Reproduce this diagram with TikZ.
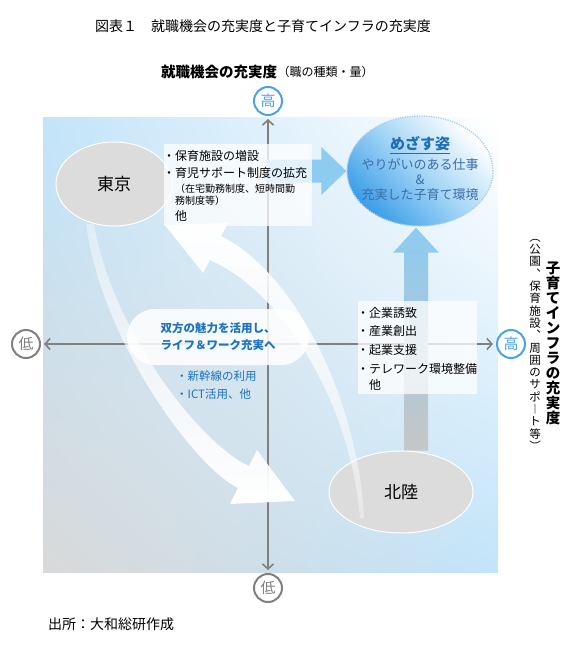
\documentclass[tikz,border=0pt]{standalone}
\usepackage{fontspec}
\setmainfont{Noto Sans CJK JP}
\usetikzlibrary{arrows.meta,shapes.geometric,calc,fadings,shadings}

\definecolor{fieldblue}{HTML}{C2E4FA}
\definecolor{fieldgray}{HTML}{D9D9D9}
\definecolor{axisgray}{HTML}{808080}
\definecolor{highblue}{HTML}{4AA3E6}
\definecolor{flowblue}{HTML}{8DCBF0}
\definecolor{flowgray}{HTML}{C6C6C6}
\definecolor{goalblue}{HTML}{3A9DE8}
\definecolor{goalmid}{HTML}{A3D5F6}
\definecolor{goalrim}{HTML}{A9CFE8}
\definecolor{goaltext}{HTML}{3D6DA8}
\definecolor{goalhead}{HTML}{1F6DB8}
\definecolor{linkblue}{HTML}{1B72C2}
\definecolor{citygray}{HTML}{DCDCDC}

\pgfdeclarelayer{panel}
\pgfdeclarelayer{flow}
\pgfsetlayers{panel,flow,main}

\tikzfading[name=fadetail down, top color=transparent!65, bottom color=transparent!0]
\tikzfading[name=fadetail up, top color=transparent!0, bottom color=transparent!65]

\tikzset{
  axisline/.style={draw=axisgray, line width=1.6pt,
    {Straight Barb[length=5pt,width=11pt]}-{Straight Barb[length=5pt,width=11pt]},
    shorten <=3pt, shorten >=3pt},
  highdot/.style={circle, draw=highblue, line width=2pt, text=highblue, minimum size=28pt,
    inner sep=0pt, font=\fontsize{15}{15}\selectfont},
  lowdot/.style={highdot, draw=axisgray, text=axisgray},
  city/.style={ellipse, fill=citygray, draw=white, line width=1pt, inner sep=0pt,
    font=\fontsize{17}{17}\selectfont},
  note/.style={fill=white, fill opacity=0.75, inner sep=0pt},
  item/.style={anchor=west, inner sep=0pt, font=\fontsize{12}{12}\selectfont},
  subitem/.style={item, font=\fontsize{10}{10}\selectfont},
  link/.style={item, text=linkblue, font=\fontsize{11.5}{12}\selectfont},
  bubble/.style={rounded corners=28pt, fill=white, fill opacity=0.85, text opacity=1,
    minimum width=182pt, minimum height=56pt, align=center, text=linkblue,
    font=\fontsize{11.5}{17}\selectfont\bfseries},
  goal/.style={ellipse, minimum width=146pt, minimum height=110pt, inner sep=0pt,
    draw=goalrim, line width=1.4pt, dash pattern=on 1.2pt off 1.2pt,
    top color=white, bottom color=goalblue, middle color=goalmid, shading angle=-45},
  goaltag/.style={inner sep=0pt, text=goalhead, font=\fontsize{15}{15}\selectfont\bfseries},
  goalline/.style={inner sep=0pt, text=goaltext, font=\fontsize{13}{13}\selectfont},
  vtitle/.style={anchor=north, inner sep=0pt, align=center,
    font=\fontsize{14.5}{15}\selectfont\bfseries},
  vnote/.style={anchor=north, inner sep=0pt, align=center,
    font=\fontsize{11.5}{12.3}\selectfont}
}

\begin{document}
\begin{tikzpicture}[x=1pt,y=-1pt]
  \useasboundingbox (0,0) rectangle (577,661);
  % background field
  \begin{pgfonlayer}{panel}
    \shade[upper left=fieldblue, upper right=white, lower left=fieldgray, lower right=fieldblue]
      (43,117) rectangle (498,572);
  \end{pgfonlayer}

  % headings
  \node[anchor=west, inner sep=0pt, font=\fontsize{14}{14}\selectfont] (title) at (95,26)
    {図表１　就職機会の充実度と子育てインフラの充実度};
  \node[anchor=west, inner sep=0pt, font=\fontsize{14.5}{15}\selectfont\bfseries] (ytitle) at (161,72)
    {就職機会の充実度};
  \node[anchor=west, inner sep=0pt, font=\fontsize{12}{12}\selectfont] (ynote) at (ytitle.east)
    {（職の種類・量）};
  \node[vtitle] (xtitle) at (553,262) {子\\育\\て\\イ\\ン\\フ\\ラ\\の\\充\\実\\度};
  \node[vnote] (xnote) at (535,239)
    {︵\\公\\園\\︑\\保\\育\\施\\設\\︑\\周\\囲\\の\\サ\\ポ\\︱\\ト\\等\\︶};
  \node[anchor=west, inner sep=0pt, font=\fontsize{14}{14}\selectfont] (source) at (48,624)
    {出所：大和総研作成};

  % level marks
  \node[highdot] (yhigh) at (268,101) {高};
  \node[lowdot] (ylow) at (268,588) {低};
  \node[highdot] (xhigh) at (511,344) {高};
  \node[lowdot] (xlow) at (26,344) {低};

  % cities
  \node[city, minimum width=116pt, minimum height=84pt] (tokyo) at (114,184) {東京};
  \node[city, minimum width=144pt, minimum height=82pt] (hokuriku) at (401,492) {北陸};

  % exchange between the two
  \fill[white, path fading=fadetail down]
    (86,224) .. controls (102,342) and (195,467) .. (238,488) -- (230,504) -- (295,501)
    -- (257,450) -- (249,466) .. controls (205,447) and (114,338) .. (94,224) -- cycle;
  \fill[white, path fading=fadetail up]
    (360,518) .. controls (350,402) and (283,292) .. (210,260) -- (203,273) -- (165,225)
    -- (228,223) -- (221,236) .. controls (294,272) and (358,398) .. (364,518) -- cycle;

  % measures
  \node[note, minimum width=148pt, minimum height=82pt] (care) at (238,185) {};
  \node[item] (care1) at (163,156) {・保育施設の増設};
  \node[item] (care2) at (163,173) {・育児サポート制度の拡充};
  \node[subitem] (care3) at (175,189) {（在宅勤務制度、短時間勤};
  \node[subitem] (care4) at (175,201) {務制度等）};
  \node[item] (care5) at (175,216) {他};

  \node[note, minimum width=119pt, minimum height=93pt] (jobs) at (417.5,347.5) {};
  \node[item] (jobs1) at (357,313) {・企業誘致};
  \node[item] (jobs2) at (357,331) {・産業創出};
  \node[item] (jobs3) at (357,350) {・起業支援};
  \node[item] (jobs4) at (357,369) {・テレワーク環境整備};
  \node[item] (jobs5) at (369,385) {他};

  \node[bubble] (both) at (218,337) {双方の魅力を活用し、\\ライフ＆ワーク充実へ};
  \node[link] (rail) at (176,376) {・新幹線の利用};
  \node[link] (ict) at (176,394) {・ICT活用、他};

  % target
  \node[goal] (goal) at (420,171) {};
  \node[goaltag] (goaltag) at (420,145) {\underline{めざす姿}};
  \node[goalline] (goal1) at (420,165) {やりがいのある仕事};
  \node[goalline] (goal2) at (420,180) {\&};
  \node[goalline] (goal3) at (420,195) {充実した子育て環境};

  \begin{pgfonlayer}{flow}
    \draw[axisline] (xlow) -- (xhigh);
    \draw[axisline] (yhigh) -- (ylow);
    \fill[flowblue] (goal.west) -- ++(-25,-24) -- ++(0,12.5) -- ++(-55,0) -- ++(0,23)
      -- ++(55,0) -- ++(0,12.5) -- cycle;
    \path (goal.south) ++(-4,1) coordinate (uptip);
    \shade[top color=flowblue, bottom color=flowgray]
      (uptip) -- ++(23,25) -- ++(-11,0) -- ($(uptip |- hokuriku.north)+(12,0)$)
      -- ++(-24,0) -- ($(uptip)+(-12,25)$) -- ++(-11,0) -- cycle;
  \end{pgfonlayer}
\end{tikzpicture}
\end{document}
